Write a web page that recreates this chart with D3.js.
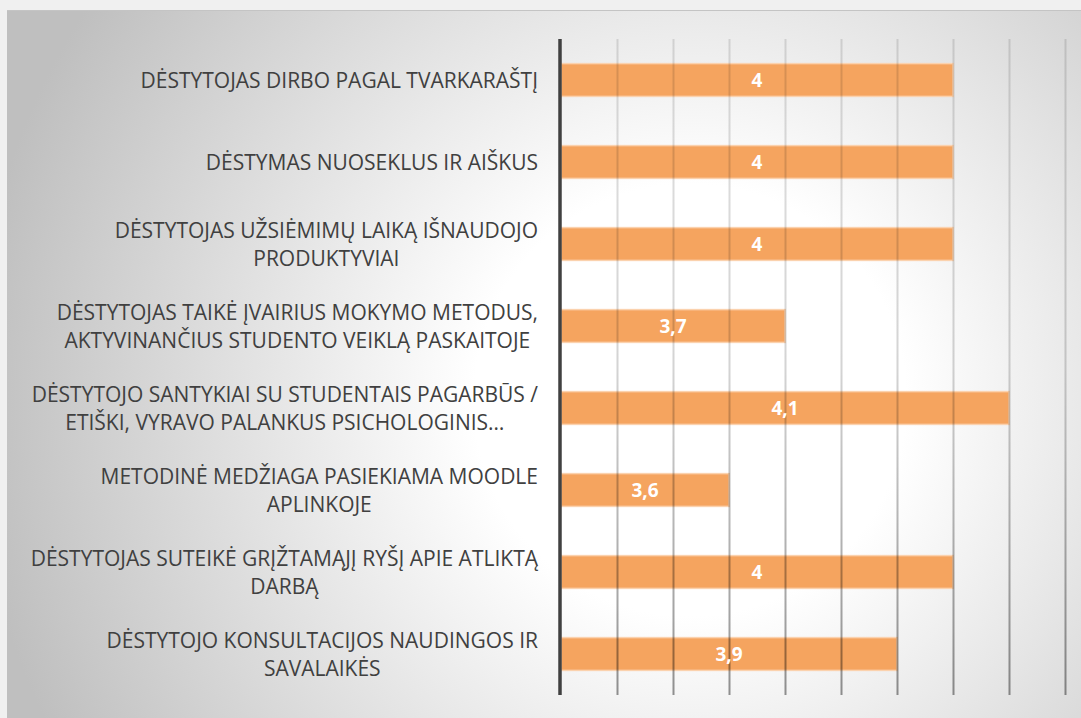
<!DOCTYPE html>
<html>
<head>
<meta charset="utf-8">
<script src="https://cdn.jsdelivr.net/npm/d3@7"></script>
<style>
  html, body { margin: 0; padding: 0; background: #f0f0f0; overflow: hidden; }
  svg { display: block; }
</style>
</head>
<body>
<div id="chart"></div>
<script>
// category labels, as the chart wraps them
var categories = [
  ["DĖSTYTOJAS DIRBO PAGAL TVARKARAŠTĮ"],
  ["DĖSTYMAS NUOSEKLUS IR AIŠKUS"],
  ["DĖSTYTOJAS UŽSIĖMIMŲ LAIKĄ IŠNAUDOJO", "PRODUKTYVIAI"],
  ["DĖSTYTOJAS TAIKĖ ĮVAIRIUS MOKYMO METODUS,", "AKTYVINANČIUS STUDENTO VEIKLĄ PASKAITOJE"],
  ["DĖSTYTOJO SANTYKIAI SU STUDENTAIS PAGARBŪS /", "ETIŠKI, VYRAVO PALANKUS PSICHOLOGINIS…"],
  ["METODINĖ MEDŽIAGA PASIEKIAMA MOODLE", "APLINKOJE"],
  ["DĖSTYTOJAS SUTEIKĖ GRĮŽTAMĄJĮ RYŠĮ APIE ATLIKTĄ", "DARBĄ"],
  ["DĖSTYTOJO KONSULTACIJOS NAUDINGOS IR", "SAVALAIKĖS"]
];
var values = [4, 4, 4, 3.7, 4.1, 3.6, 4, 3.9];
var xTicks = [3.4, 3.5, 3.6, 3.7, 3.8, 3.9, 4.0, 4.1, 4.2, 4.3];

var W = 1081, H = 718;
var margin = {top: 39, left: 561, bottom: 23, right: -40};

var svg = d3.select("#chart")
  .append("svg")
  .attr("width", W)
  .attr("height", H);

var defs = svg.append("defs");

var bg = defs.append("radialGradient")
  .attr("id", "bg")
  .attr("gradientUnits", "userSpaceOnUse")
  .attr("cx", 690).attr("cy", 400).attr("r", 720);
bg.append("stop").attr("offset", 0).attr("stop-color", "#ffffff");
bg.append("stop").attr("offset", 0.3).attr("stop-color", "#ffffff");
bg.append("stop").attr("offset", 1).attr("stop-color", "#bfbfbf");

var gridGrad = defs.append("linearGradient")
  .attr("id", "gridGrad")
  .attr("gradientUnits", "userSpaceOnUse")
  .attr("x1", 0).attr("y1", margin.top)
  .attr("x2", 0).attr("y2", H - margin.bottom);
gridGrad.append("stop").attr("offset", 0).attr("stop-color", "#000").attr("stop-opacity", 0.12);
gridGrad.append("stop").attr("offset", 0.5).attr("stop-color", "#000").attr("stop-opacity", 0.17);
gridGrad.append("stop").attr("offset", 1).attr("stop-color", "#000").attr("stop-opacity", 0.42);

// chart area
svg.append("rect")
  .attr("x", 7).attr("y", 10)
  .attr("width", W - 7).attr("height", H - 10)
  .attr("fill", "url(#bg)");
svg.append("line")
  .attr("x1", 7).attr("x2", W)
  .attr("y1", 10.5).attr("y2", 10.5)
  .attr("stroke", "#c4c4c4");

var xscale = d3.scaleLinear()
  .domain([3.3, 4.3])
  .range([margin.left, margin.left + 560]);

var yscale = d3.scaleBand()
  .domain(d3.range(values.length))
  .range([margin.top, H - margin.bottom])
  .paddingInner(0.6)
  .paddingOuter(0.3);

// bars
svg.append("g")
  .selectAll("rect")
  .data(values)
  .enter().append("rect")
  .attr("x", xscale(3.3))
  .attr("y", (d, i) => yscale(i))
  .attr("width", d => xscale(d) - xscale(3.3))
  .attr("height", yscale.bandwidth())
  .attr("fill", "#f5a45f")
  .attr("stroke", "#fbd2ae")
  .attr("stroke-width", 1.5);

// gridlines over the bars
svg.append("g")
  .selectAll("line")
  .data(xTicks)
  .enter().append("line")
  .attr("x1", d => Math.round(xscale(d)) + 0.5)
  .attr("x2", d => Math.round(xscale(d)) + 0.5)
  .attr("y1", margin.top)
  .attr("y2", H - margin.bottom)
  .attr("stroke", "url(#gridGrad)")
  .attr("stroke-width", 2);

// value labels
svg.append("g")
  .selectAll("text")
  .data(values)
  .enter().append("text")
  .attr("x", d => (xscale(3.3) + xscale(d)) / 2)
  .attr("y", (d, i) => yscale(i) + yscale.bandwidth() / 2)
  .attr("dy", "0.36em")
  .attr("text-anchor", "middle")
  .attr("fill", "#ffffff")
  .style("font-family", "'Open Sans', sans-serif")
  .style("font-weight", 700)
  .style("font-size", "19px")
  .text(d => String(d).replace(".", ","));

// category labels: lines centred, block right aligned
var lineH = 28;
var labels = svg.append("g")
  .style("font-family", "'Open Sans', sans-serif")
  .style("font-size", "21px")
  .attr("fill", "#404040");

categories.forEach(function (lines, i) {
  var cy = yscale(i) + yscale.bandwidth() / 2;
  var g = labels.append("g");
  var texts = g.selectAll("text")
    .data(lines)
    .enter().append("text")
    .attr("text-anchor", "middle")
    .attr("y", (d, j) => cy + (j - (lines.length - 1) / 2) * lineH)
    .attr("dy", "0.36em")
    .text(d => d);
  var maxW = d3.max(texts.nodes(), n => n.getComputedTextLength());
  texts.attr("x", 538 - maxW / 2);
});

// axis line
svg.append("line")
  .attr("x1", margin.left - 1).attr("x2", margin.left - 1)
  .attr("y1", margin.top).attr("y2", H - margin.bottom)
  .attr("stroke", "#404040")
  .attr("stroke-width", 3.5);
</script>
</body>
</html>
